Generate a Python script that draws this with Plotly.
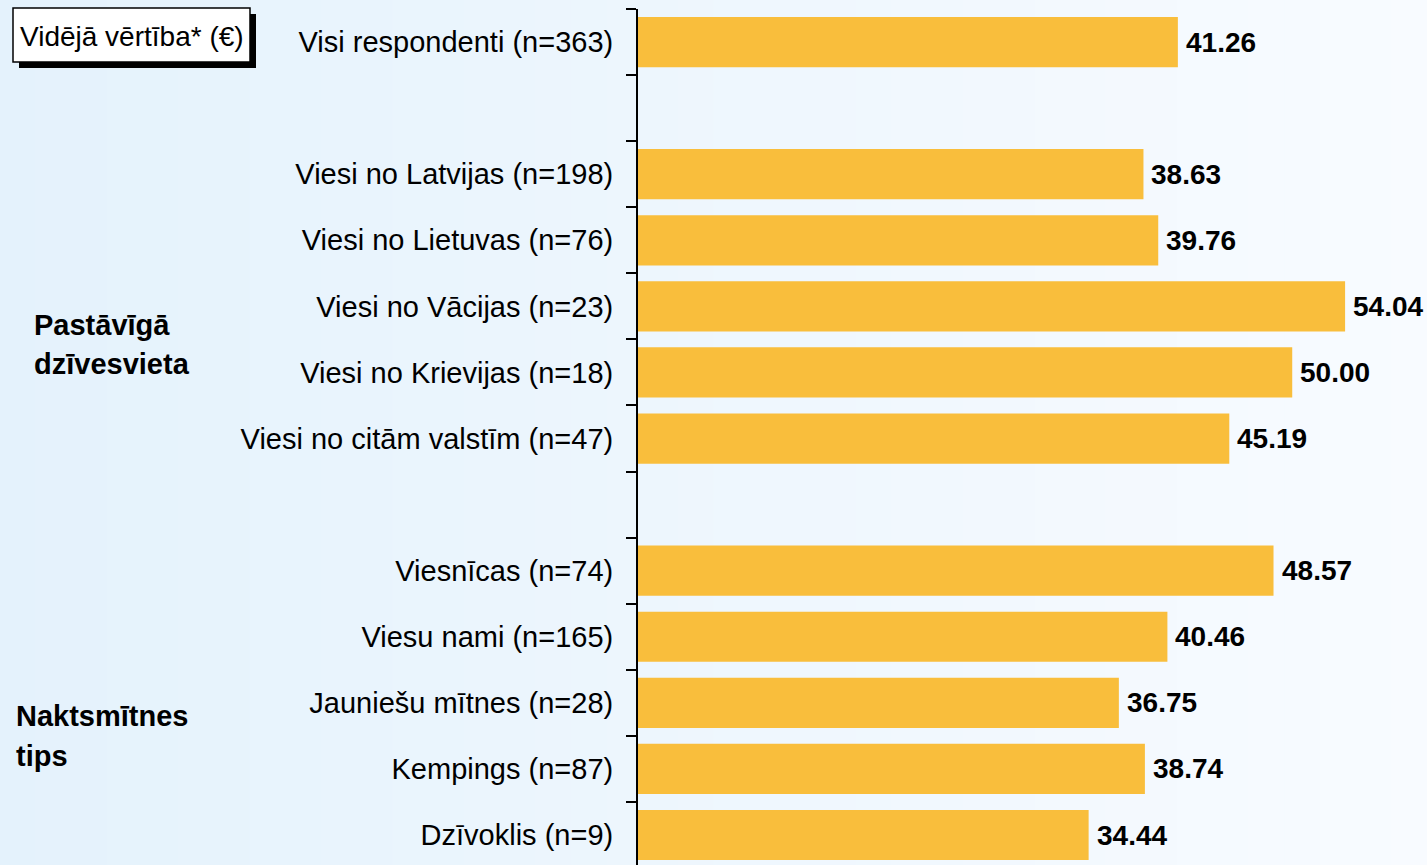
import plotly.graph_objects as go

categories = [
    "Visi respondenti (n=363)", " ",
    "Viesi no Latvijas (n=198)", "Viesi no Lietuvas (n=76)", "Viesi no Vācijas (n=23)",
    "Viesi no Krievijas (n=18)", "Viesi no citām valstīm (n=47)", "  ",
    "Viesnīcas (n=74)", "Viesu nami (n=165)", "Jauniešu mītnes (n=28)",
    "Kempings (n=87)", "Dzīvoklis (n=9)",
]
values = [41.26, None, 38.63, 39.76, 54.04, 50.00, 45.19, None,
          48.57, 40.46, 36.75, 38.74, 34.44]
group1_lines = ["Pastāvīgā", "dzīvesvieta"]
group2_lines = ["Naktsmītnes", "tips"]
box_title = "Vidējā vērtība* (€)"

W, H = 1427, 865
ML, MT = 638, 9
PW, PH = W - ML, H - MT
FONT = "Liberation Sans, Arial, sans-serif"

def px(x):
    return (x - ML) / PW

def py(y):
    return 1 - (y - MT) / PH

fig = go.Figure()
fig.add_trace(go.Bar(
    y=categories, x=values, orientation="h",
    marker=dict(color="#F9BE3C", line=dict(width=0)),
    width=0.76, hoverinfo="skip",
))

# value labels
for c, v in zip(categories, values):
    if v is None:
        continue
    fig.add_annotation(x=v, y=c, text=f"<b>{v:.2f}</b>", showarrow=False,
                       xanchor="left", xshift=6, font=dict(size=28, color="black", family=FONT))

# group labels (one annotation per line)
for txt, ypx in zip(group1_lines, [325, 364]):
    fig.add_annotation(xref="paper", yref="paper", x=px(32), y=py(ypx), text=f"<b>{txt}</b>",
                       showarrow=False, xanchor="left", yanchor="middle",
                       font=dict(size=29, color="black", family=FONT))
for txt, ypx in zip(group2_lines, [716, 756]):
    fig.add_annotation(xref="paper", yref="paper", x=px(14), y=py(ypx), text=f"<b>{txt}</b>",
                       showarrow=False, xanchor="left", yanchor="middle",
                       font=dict(size=29, color="black", family=FONT))

shapes = []
# background gradient
N = 40
c0 = (228, 242, 252)
c1 = (248, 251, 255)
for i in range(N):
    t = i / (N - 1)
    col = tuple(round(a + (b - a) * t) for a, b in zip(c0, c1))
    shapes.append(dict(type="rect", xref="paper", yref="paper", layer="below",
                       x0=px(i * W / N), x1=px((i + 1) * W / N + 1), y0=py(H + 5), y1=py(-5),
                       line=dict(width=0), fillcolor=f"rgb{col}"))
# box with shadow
shapes.append(dict(type="rect", xref="paper", yref="paper", layer="above",
                   x0=px(19), x1=px(256), y0=py(68), y1=py(14),
                   line=dict(width=0), fillcolor="black"))
shapes.append(dict(type="rect", xref="paper", yref="paper", layer="above",
                   x0=px(13), x1=px(250), y0=py(62), y1=py(8),
                   line=dict(width=1.5, color="black"), fillcolor="white"))
fig.add_annotation(xref="paper", yref="paper", x=px(132), y=py(37), text=box_title,
                   showarrow=False, xanchor="center", yanchor="middle",
                   font=dict(size=28, color="black", family=FONT))

fig.update_layout(
    width=W, height=H,
    margin=dict(l=ML, r=0, t=MT, b=0, pad=0),
    paper_bgcolor="#EEF7FD", plot_bgcolor="rgba(0,0,0,0)",
    showlegend=False, shapes=shapes,
    font=dict(family=FONT, size=28, color="black"),
    xaxis=dict(range=[0, 60.3], showgrid=False, zeroline=False, showticklabels=False,
               showline=False, ticks=""),
    yaxis=dict(type="category", categoryorder="array", categoryarray=categories,
               range=[12.454, -0.5], tickson="boundaries", ticks="outside", ticklen=10,
               tickwidth=2, tickcolor="black", showline=True, linecolor="black", linewidth=2,
               showgrid=False, zeroline=False, ticklabelstandoff=17,
               tickfont=dict(size=29, family=FONT, color="black")),
)

fig.write_html("out.html", config={"displayModeBar": False},
               post_script="document.body.style.margin='0';document.body.style.overflow='hidden';")
